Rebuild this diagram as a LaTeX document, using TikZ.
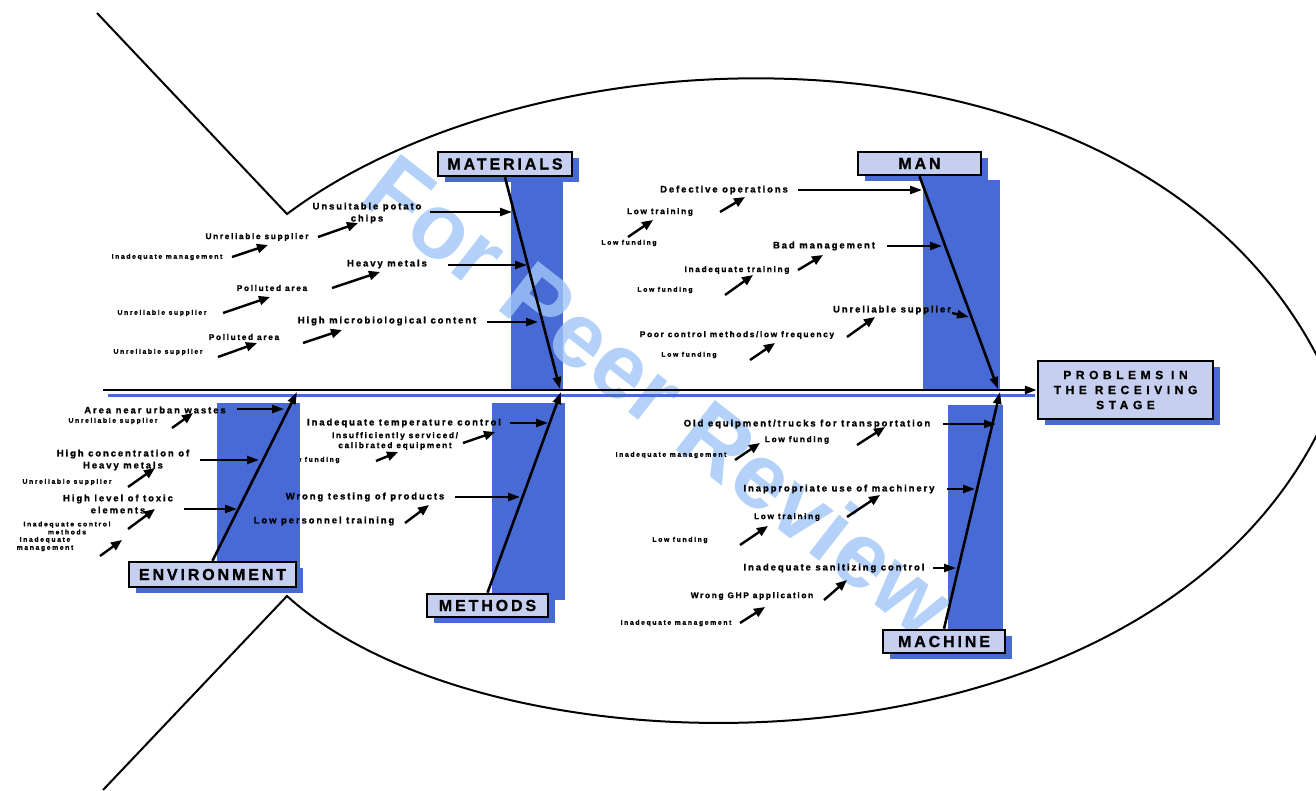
\documentclass[tikz,border=0pt]{standalone}
\usepackage{fontspec}
\setmainfont{Liberation Sans}
\newfontfamily\mainlab{Liberation Sans}[LetterSpace=20, BoldFeatures={FakeBold=1.2}]
\newfontfamily\smalllab{Liberation Sans}[LetterSpace=24, BoldFeatures={FakeBold=1.2}]
\newfontfamily\titlab{Liberation Sans}[LetterSpace=18, BoldFeatures={FakeBold=1}]
\newfontfamily\problab{Liberation Sans}[LetterSpace=38, BoldFeatures={FakeBold=1}]
\usetikzlibrary{arrows.meta,shadows}
\definecolor{barblue}{RGB}{72,106,212}
\definecolor{boxfill}{RGB}{198,207,240}
\definecolor{wmblue}{RGB}{160,198,248}
\newcommand\arw[4][arr]{\coordinate (#2s) at #3; \coordinate (#2e) at #4; \draw[#1] (#2s) -- (#2e);}
\tikzset{
  main/.style={font={\mainlab\bfseries\fontsize{9.5}{12}\selectfont}, inner sep=0pt, align=center},
  mid/.style={font={\mainlab\bfseries\fontsize{8.3}{10}\selectfont}, inner sep=0pt, align=center},
  small/.style={font={\smalllab\bfseries\fontsize{6.8}{8}\selectfont}, inner sep=0pt, align=center},
  catbox/.style={draw=black, line width=2.5pt, fill=boxfill, inner sep=0pt,
    font={\titlab\bfseries\fontsize{16}{16}\selectfont},
    drop shadow={shadow xshift=7pt, shadow yshift=-6pt, fill=barblue, opacity=1}},
  arr/.style={line width=2.4pt, -{Triangle[length=12pt,width=8pt]}},
  sarr/.style={line width=2.4pt, -{Triangle[length=11pt,width=9pt]}},
  bone/.style={line width=2.6pt, -{Triangle[length=12pt,width=8pt]}},
  fish/.style={line width=2pt, line join=miter},
  wm/.style={font={\bfseries\fontsize{92}{92}\selectfont}, text=wmblue, opacity=0.8, inner sep=0pt}
}
\begin{document}
\begin{tikzpicture}[x=1pt,y=-1pt]
\useasboundingbox (0,0) rectangle (1316,790);
\fill[white] (0,0) rectangle (1316,790);
\begin{scope}
\clip (0,0) rectangle (1316,790);
\draw[fish] (97,13) -- (287,214) .. controls (560,10) and (1180,10) .. (1335,395)
  .. controls (1180,790) and (500,790) .. (287,596) -- (103,790);
\end{scope}
% label partly hidden behind the environment bar
\node[small] (t1b) at (312,460) {Low funding};
% blue bars
\fill[barblue] (511,182) rectangle (563,390);
\fill[barblue] (923,180) rectangle (1000,390);
\fill[barblue] (217,403) rectangle (300,585);
\fill[barblue] (492,403) rectangle (565,600);
\fill[barblue] (948,405) rectangle (1003,640);
% watermark
\node[wm, rotate=-38] (wmark) at (660,395) {For Peer Review};
% spine shadow
\draw[barblue, line width=3pt] (108,395) -- (1035,395);
% category boxes
\node[catbox, minimum width=134pt, minimum height=24pt] (mat) at (505,164) {MATERIALS};
\node[catbox, minimum width=123pt, minimum height=23pt] (man) at (919.5,163.5) {MAN};
\node[catbox, minimum width=167pt, minimum height=25pt] (env) at (212.5,574.5) {ENVIRONMENT};
\node[catbox, minimum width=121pt, minimum height=23pt] (met) at (487.5,605.5) {METHODS};
\node[catbox, minimum width=122pt, minimum height=23pt] (mac) at (944,641.5) {MACHINE};
\node[catbox, font={\problab\bfseries\fontsize{12}{15}\selectfont}, align=center,
  minimum width=175pt, minimum height=58pt] (prob) at (1125.5,390) {PROBLEMS IN\\THE RECEIVING\\STAGE};
% spine and bones
\coordinate (tail) at (103,390);
\draw[bone] (tail) -- (prob.west);
\coordinate (jmat) at (560,389);
\coordinate (jman) at (998,389);
\coordinate (jenv) at (297,392);
\coordinate (jmet) at (561,392);
\coordinate (jmac) at (1000,392);
\draw[bone] (mat.south) -- (jmat);
\draw[bone] (man.south) -- (jman);
\draw[bone] (env.north) -- (jenv);
\draw[bone] (met.north) -- (jmet);
\draw[bone] (mac.north) -- (jmac);
% MATERIALS
\node[main] (m1) at (367,213) {Unsuitable potato\\chips};
\arw{m1}{(430,212)}{(512,212)}
\node[mid] (m1a) at (257,237) {Unreliable supplier};
\arw[sarr]{m1a}{(318,237)}{(358,223)}
\node[small] (m1b) at (167,257) {Inadequate management};
\arw[sarr]{m1b}{(232,257)}{(268,245)}
\node[main] (m2) at (387,264) {Heavy metals};
\arw{m2}{(448,265)}{(527,265)}
\node[mid] (m2a) at (272,288) {Polluted area};
\arw[sarr]{m2a}{(332,288)}{(380,272)}
\node[small] (m2b) at (162,313) {Unreliable supplier};
\arw[sarr]{m2b}{(223,313)}{(270,297)}
\node[main] (m3) at (387,321) {High microbiological content};
\arw{m3}{(487,322)}{(538,322)}
\node[mid] (m3a) at (244,337) {Polluted area};
\arw[sarr]{m3a}{(303,343)}{(342,330)}
\node[small] (m3b) at (158,352) {Unreliable supplier};
\arw[sarr]{m3b}{(218,357)}{(257,343)}
% MAN
\node[main] (n1) at (724,190) {Defective operations};
\arw{n1}{(798,190)}{(922,190)}
\arw[sarr]{n1x}{(720,212)}{(745,197)}
\node[mid] (n1a) at (660,212) {Low training};
\arw[sarr]{n1a}{(628,237)}{(653,220)}
\node[small] (n1b) at (629,243) {Low funding};
\node[main] (n2) at (824,246) {Bad management};
\arw{n2}{(887,246)}{(942,246)}
\arw[sarr]{n2x}{(798,270)}{(823,255)}
\node[mid] (n2a) at (737,270) {Inadequate training};
\arw[sarr]{n2a}{(725,295)}{(753,275)}
\node[small] (n2b) at (665,290) {Low funding};
\node[main] (n3) at (892,310) {Unreliable supplier};
\arw{n3}{(952,313)}{(969,317)}
\arw[sarr]{n3x}{(847,337)}{(875,317)}
\node[mid] (n3a) at (737,335) {Poor control methods/low frequency};
\arw[sarr]{n3a}{(750,360)}{(775,343)}
\node[small] (n3b) at (689,355) {Low funding};
% ENVIRONMENT
\node[main] (e1) at (155,410) {Area near urban wastes};
\arw{e1}{(237,409)}{(284,409)}
\node[small] (e1a) at (113,421) {Unreliable supplier};
\arw[sarr]{e1a}{(172,428)}{(193,413)}
\node[main] (e2) at (123,460) {High concentration of\\Heavy metals};
\arw{e2}{(200,460)}{(259,460)}
\node[small] (e2a) at (67,482) {Unreliable supplier};
\arw[sarr]{e2a}{(128,487)}{(155,468)}
\node[main] (e3) at (118,504) {High level of toxic\\elements};
\arw{e3}{(184,509)}{(237,509)}
\node[small] (e3a) at (67,528) {Inadequate control\\methods};
\arw[sarr]{e3a}{(128,529)}{(155,509)}
\node[small] (e3b) at (45,544) {Inadequate\\management};
\arw[sarr]{e3b}{(100,556)}{(122,540)}
% METHODS
\node[main] (t1) at (404,423) {Inadequate temperature control};
\arw{t1}{(510,423)}{(548,423)}
\node[mid] (t1a) at (395,441) {Insufficiently serviced/\\calibrated equipment};
\arw[sarr]{t1a}{(463,443)}{(495,432)}
\arw[sarr]{t1b}{(376,461)}{(398,452)}
\node[main] (t2) at (365,497) {Wrong testing of products};
\arw{t2}{(455,497)}{(520,497)}
\node[main] (t2a) at (324,521) {Low personnel training};
\arw[sarr]{t2a}{(405,523)}{(429,505)}
% MACHINE
\node[main] (c1) at (807,424) {Old equipment/trucks for transportation};
\arw{c1}{(943,424)}{(996,424)}
\arw[sarr]{c1x}{(857,445)}{(885,427)}
\node[mid] (c1a) at (797,440) {Low funding};
\arw[sarr]{c1a}{(735,460)}{(760,443)}
\node[small] (c1b) at (671,455) {Inadequate management};
\node[main] (c2) at (839,489) {Inappropriate use of machinery};
\arw{c2}{(947,489)}{(975,489)}
\arw[sarr]{c2x}{(847,517)}{(880,495)}
\node[mid] (c2a) at (787,517) {Low training};
\arw[sarr]{c2a}{(740,545)}{(768,526)}
\node[small] (c2b) at (680,540) {Low funding};
\node[main] (c3) at (834,568) {Inadequate sanitizing control};
\arw{c3}{(933,568)}{(956,568)}
\arw[sarr]{c3x}{(824,600)}{(847,580)}
\node[mid] (c3a) at (752,596) {Wrong GHP application};
\arw[sarr]{c3a}{(740,623)}{(765,607)}
\node[small] (c3b) at (676,623) {Inadequate management};
\end{tikzpicture}
\end{document}
